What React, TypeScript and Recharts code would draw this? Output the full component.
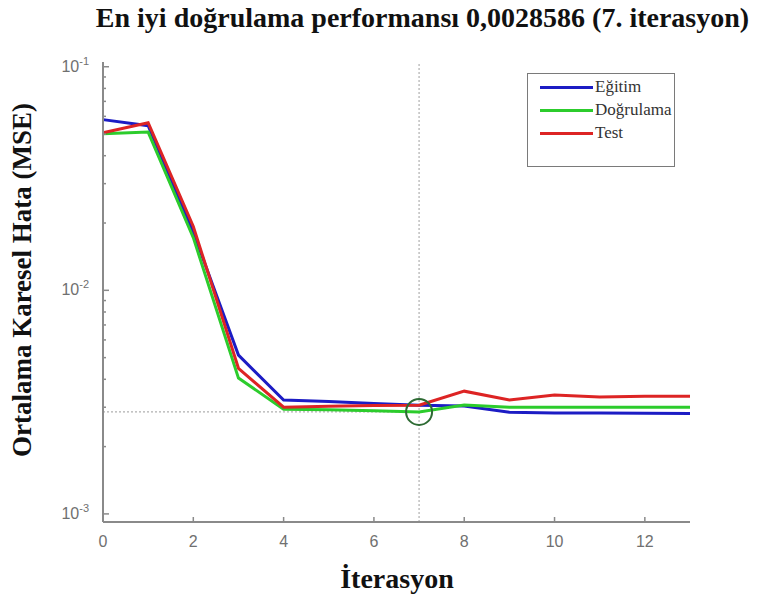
import { LineChart, Line, XAxis, YAxis, ReferenceLine, ReferenceDot } from 'recharts'

const iterations = [0, 1, 2, 3, 4, 5, 6, 7, 8, 9, 10, 11, 12, 13]
const egitim = [0.058, 0.0545, 0.0182, 0.00513, 0.00323, 0.00318, 0.00312, 0.00306, 0.00304, 0.00285, 0.00283, 0.00283, 0.00282, 0.00281]
const dogrulama = [0.0502, 0.051, 0.0172, 0.00405, 0.00294, 0.00292, 0.00289, 0.0028586, 0.00307, 0.003, 0.003, 0.003, 0.003, 0.003]
const testSet = [0.0507, 0.0562, 0.0193, 0.00448, 0.003, 0.00303, 0.00305, 0.00306, 0.00354, 0.00323, 0.0034, 0.00333, 0.00336, 0.00336]

const xTicks = [0, 2, 4, 6, 8, 10, 12]
const majorTicks = [0.001, 0.01, 0.1]
const minorTicks = [2, 3, 4, 5, 6, 7, 8, 9].flatMap((m) => [m * 0.001, m * 0.01])
const yTicks = [...majorTicks, ...minorTicks].sort((a, b) => a - b)

const bestValue = 0.0028586
const bestIter = 7

const series = [
  { key: 'egitim', name: 'Eğitim', color: '#1c1cc4' },
  { key: 'dogrulama', name: 'Doğrulama', color: '#2ccc2c' },
  { key: 'test', name: 'Test', color: '#dd2424' },
]

const data = iterations.map((it, i) => ({
  it,
  egitim: egitim[i],
  dogrulama: dogrulama[i],
  test: testSet[i],
}))

const axisColor = '#8a8a8a'
const tickFont = '"Liberation Sans", Arial, sans-serif'
const serif = '"Liberation Serif", "Times New Roman", serif'

function YTick(props: any) {
  const { x, y, payload } = props
  const v = payload.value
  const isMajor = majorTicks.some((m) => Math.abs(m - v) < 1e-9)
  const exp = Math.round(Math.log10(v))
  return (
    <g>
      <line x1={x} x2={x + (isMajor ? 6 : 3)} y1={y} y2={y} stroke={axisColor} strokeWidth={1.5} />
      {isMajor && (
        <text x={x - 14} y={y + 5} textAnchor="end" fill="#707070" fontFamily={tickFont} fontSize={16}>
          <tspan>10</tspan>
          <tspan dy={-7} fontSize={11}>{exp}</tspan>
        </text>
      )}
    </g>
  )
}

function XTick(props: any) {
  const { x, y, payload } = props
  return (
    <g>
      <line x1={x} x2={x} y1={y} y2={y - 5} stroke={axisColor} strokeWidth={1.5} />
      <text x={x} y={y + 25} textAnchor="middle" fill="#707070" fontFamily={tickFont} fontSize={16}>
        {payload.value}
      </text>
    </g>
  )
}

export default function App() {
  return (
    <div style={{ position: 'absolute', left: 0, top: 0, width: 761, height: 603, background: '#fff' }}>
      <LineChart width={761} height={603} data={data} margin={{ top: 62, right: 71, left: 0, bottom: 0 }}>
        <XAxis
          dataKey="it"
          type="number"
          domain={[0, 13]}
          ticks={xTicks}
          tick={<XTick />}
          tickLine={false}
          tickSize={0}
          tickMargin={0}
          height={81}
          stroke={axisColor}
          strokeWidth={2}
        />
        <YAxis
          scale="log"
          type="number"
          domain={[0.00092, 0.105]}
          allowDataOverflow
          ticks={yTicks}
          interval={0}
          tick={<YTick />}
          tickLine={false}
          tickSize={0}
          tickMargin={0}
          width={103}
          stroke={axisColor}
          strokeWidth={2}
        />
        <ReferenceLine x={bestIter} stroke="#b0b0b0" strokeDasharray="2 2" strokeWidth={1.2} />
        <ReferenceLine
          segment={[{ x: 0, y: bestValue }, { x: bestIter, y: bestValue }]}
          stroke="#b0b0b0"
          strokeDasharray="2 2"
          strokeWidth={1.2}
        />
        {series.map((s) => (
          <Line
            key={s.key}
            dataKey={s.key}
            name={s.name}
            stroke={s.color}
            strokeWidth={3}
            dot={false}
            isAnimationActive={false}
          />
        ))}
        <ReferenceDot x={bestIter} y={bestValue} r={13} fill="none" stroke="#2e6b34" strokeWidth={2} />
      </LineChart>

      <div
        style={{
          position: 'absolute', left: 0, width: 845, top: 2, textAlign: 'center', whiteSpace: 'nowrap',
          fontFamily: serif, fontWeight: 'bold', fontSize: 28, color: '#111',
        }}
      >
        En iyi doğrulama performansı 0,0028586 (7. iterasyon)
      </div>
      <div
        style={{
          position: 'absolute', left: 22, top: 280, width: 440, marginLeft: -220, textAlign: 'center', whiteSpace: 'nowrap',
          transform: 'translateY(-50%) rotate(-90deg)', fontFamily: serif, fontWeight: 'bold', fontSize: 27, color: '#111',
        }}
      >
        Ortalama Karesel Hata (MSE)
      </div>
      <div
        style={{
          position: 'absolute', left: 197, width: 400, top: 563, textAlign: 'center',
          fontFamily: serif, fontWeight: 'bold', fontSize: 28, color: '#111',
        }}
      >
        İterasyon
      </div>

      <div
        style={{
          position: 'absolute', left: 527, top: 73, width: 146, height: 92,
          border: '1.5px solid #7a7a7a', background: '#fff', fontFamily: serif, fontSize: 17, color: '#333',
        }}
      >
        {series.map((s, i) => (
          <div key={s.key} style={{ position: 'absolute', left: 12, top: 3 + i * 23, height: 20, display: 'flex', alignItems: 'center', whiteSpace: 'nowrap' }}>
            <div style={{ width: 53, height: 3, background: s.color }} />
            <span style={{ marginLeft: 2 }}>{s.name}</span>
          </div>
        ))}
      </div>
    </div>
  )
}
